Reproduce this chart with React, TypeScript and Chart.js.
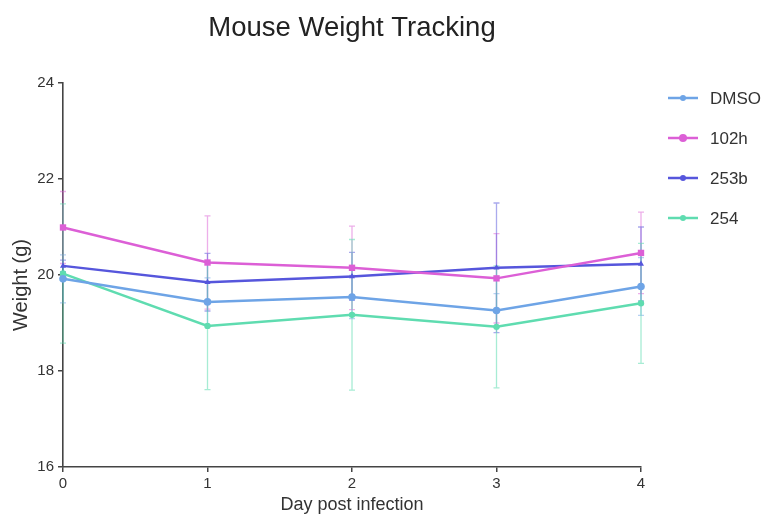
import React, { useEffect, useRef } from "react";
import { Chart, registerables } from "chart.js";

Chart.register(...registerables);

const days = [0, 1, 2, 3, 4];
const seriesNames = ["DMSO", "102h", "253b", "254"];
const dmso = [19.92, 19.44, 19.54, 19.26, 19.76];
const h102 = [20.99, 20.26, 20.15, 19.93, 20.46];
const b253 = [20.19, 19.85, 19.97, 20.15, 20.23];
const s254 = [20.03, 18.94, 19.17, 18.92, 19.41];
const dmsoErr = [0.5, 0.5, 0.45, 0.35, 0.6];
const h102Err = [0.75, 0.97, 0.87, 0.93, 0.85];
const b253Err = [0.12, 0.6, 0.5, 1.35, 0.77];
const s254Err = [1.45, 1.33, 1.57, 1.27, 1.25];
const yTicks = [16, 18, 20, 22, 24];
const yTitle = "Weight (g)";

const colors = ["#6ea4e6", "#dc5fd6", "#5656dc", "#5fdcb0"];
const errColors = ["rgba(110,164,230,0.5)", "rgba(220,95,214,0.5)", "rgba(86,86,220,0.5)", "rgba(95,220,176,0.55)"];
const pointStyles = ["circle", "rect", "triangle", "circle"];
const pointRadii = [3.8, 4.5, 3.5, 3.2];

const values = [dmso, h102, b253, s254];
const errors = [dmsoErr, h102Err, b253Err, s254Err];

const FONT = "'Liberation Sans', Arial, sans-serif";

const errorBarPlugin = {
  id: "errorBars",
  beforeDatasetsDraw(chart: any) {
    const { ctx, scales } = chart;
    const xs = scales.x;
    const ys = scales.y;
    ctx.save();
    ctx.lineWidth = 1.3;
    chart.data.datasets.forEach((ds: any, i: number) => {
      ctx.strokeStyle = errColors[i];
      ds.data.forEach((p: any, j: number) => {
        const e = errors[i][j];
        const x = xs.getPixelForValue(p.x);
        const y1 = ys.getPixelForValue(p.y - e);
        const y2 = ys.getPixelForValue(p.y + e);
        ctx.beginPath();
        ctx.moveTo(x, y1);
        ctx.lineTo(x, y2);
        ctx.moveTo(x - 3, y1);
        ctx.lineTo(x + 3, y1);
        ctx.moveTo(x - 3, y2);
        ctx.lineTo(x + 3, y2);
        ctx.stroke();
      });
    });
    ctx.restore();
  },
};

const legendPlugin = {
  id: "customLegend",
  afterDraw(chart: any) {
    const { ctx, scales } = chart;
    ctx.save();
    chart.data.datasets.forEach((ds: any, i: number) => {
      const y = 98 + i * 40;
      ctx.strokeStyle = colors[i];
      ctx.lineWidth = 2.5;
      ctx.beginPath();
      ctx.moveTo(668, y);
      ctx.lineTo(698, y);
      ctx.stroke();
      ctx.fillStyle = colors[i];
      ctx.beginPath();
      ctx.arc(683, y, i === 1 ? 4 : 3, 0, Math.PI * 2);
      ctx.fill();
      ctx.fillStyle = "#333";
      ctx.font = `17px ${FONT}`;
      ctx.textBaseline = "middle";
      ctx.textAlign = "left";
      ctx.fillText(ds.label, 710, y + 1);
    });
    // y-axis title
    const ys = scales.y;
    const cy = (ys.top + ys.bottom) / 2 + 10;
    ctx.translate(21, cy);
    ctx.rotate(-Math.PI / 2);
    ctx.font = `20px ${FONT}`;
    ctx.fillStyle = "#333";
    ctx.textAlign = "center";
    ctx.textBaseline = "middle";
    ctx.fillText(yTitle, 0, 0);
    ctx.restore();
  },
};

export default function App() {
  const ref = useRef<HTMLCanvasElement>(null);
  useEffect(() => {
    if (!ref.current) return;
    const chart = new Chart(ref.current, {
      type: "line",
      data: {
        datasets: seriesNames.map((name, i) => ({
          label: name,
          data: days.map((d, j) => ({ x: d, y: values[i][j] })),
          borderColor: colors[i],
          backgroundColor: colors[i],
          borderWidth: 2.5,
          pointStyle: pointStyles[i] as any,
          pointRadius: pointRadii[i],
          pointBorderWidth: 0,
          tension: 0,
          clip: false as any,
        })),
      },
      options: {
        animation: false,
        responsive: true,
        maintainAspectRatio: false,
        layout: { padding: { left: 8, right: 123, top: 0, bottom: 0 } },
        plugins: {
          legend: { display: false },
          tooltip: { enabled: false },
          title: {
            display: true,
            text: "Mouse Weight Tracking",
            fullSize: false,
            color: "#222",
            font: { family: FONT, size: 27.5, weight: "normal" },
            padding: { top: 11.5, bottom: 38.5 },
          },
        },
        scales: {
          x: {
            type: "linear",
            min: 0,
            max: 4,
            ticks: { stepSize: 1, color: "#333", font: { family: FONT, size: 15 }, padding: 3 },
            grid: { display: true, drawOnChartArea: false, drawTicks: true, tickLength: 5, color: "#444", lineWidth: 1.5 },
            border: { display: true, color: "#444", width: 1.6 },
            title: {
              display: true,
              text: "Day post infection",
              color: "#333",
              font: { family: FONT, size: 18 },
              padding: { top: 0, bottom: 2 },
            },
            afterFit: (s: any) => {
              s.height = 51;
            },
          },
          y: {
            min: 16,
            max: 24,
            afterBuildTicks: (s: any) => {
              s.ticks = yTicks.map((v) => ({ value: v }));
            },
            ticks: { color: "#333", font: { family: FONT, size: 15 }, padding: 4 },
            grid: { display: true, drawOnChartArea: false, drawTicks: true, tickLength: 5, color: "#444", lineWidth: 1.5 },
            border: { display: true, color: "#444", width: 1.6 },
            title: { display: false },
            afterFit: (s: any) => {
              s.width = 55;
            },
          },
        },
      },
      plugins: [errorBarPlugin, legendPlugin],
    });
    return () => chart.destroy();
  }, []);
  return (
    <div style={{ position: "absolute", left: 0, top: 0, width: 764, height: 518, background: "#fff" }}>
      <canvas ref={ref} />
    </div>
  );
}
